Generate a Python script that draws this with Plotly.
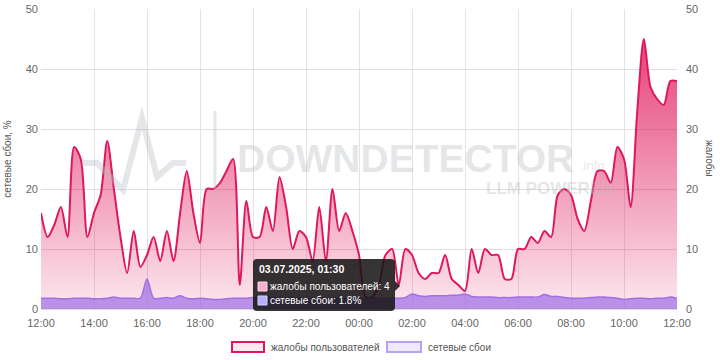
import pandas as pd
import plotly.graph_objects as go

# ---- data (15-minute steps, 02.07.2025 12:00 -> 03.07.2025 12:00) ----
times = pd.date_range("2025-07-02 12:00", "2025-07-03 12:00", freq="15min")

complaints = [
    16, 12, 14, 17, 12, 27, 25, 12,      # 12:00-13:45
    16, 19, 28, 20, 12, 6, 13, 7,        # 14:00-15:45
    9, 12, 8, 13, 8, 16, 23, 16,         # 16:00-17:45
    11, 20, 20, 21, 23, 25, 4, 18,       # 18:00-19:45
    12, 12, 17, 13, 22, 17, 10, 13,      # 20:00-21:45
    12, 8, 17, 8, 20, 13, 16, 13,        # 22:00-23:45
    9, 2, 2, 4, 9, 10, 4, 10,            # 00:00-01:45
    9, 6, 5, 6, 6, 9, 5, 4,              # 02:00-03:45
    3, 10, 6, 10, 9, 9, 5, 5,            # 04:00-05:45
    10, 10, 12, 11, 13, 12, 19, 20,      # 06:00-07:45
    19, 15, 13, 18, 23, 23, 21, 27,      # 08:00-09:45
    25, 17, 33, 45, 37, 35, 34, 38,      # 10:00-11:45
    38,                                  # 12:00
]

network = [
    1.8, 1.8, 1.8, 1.7, 1.7, 1.8, 1.8, 1.8,
    1.7, 1.7, 1.8, 2.0, 1.8, 1.8, 1.8, 1.8,
    5.0, 1.8, 1.8, 1.9, 1.8, 2.2, 1.8, 1.7,
    1.8, 1.7, 1.6, 1.6, 1.7, 1.8, 1.8, 1.8,
    1.9, 2.0, 2.0, 1.9, 1.9, 1.8, 1.9, 1.8,
    1.8, 1.8, 1.9, 1.8, 1.8, 1.9, 1.8, 1.8,
    1.8, 1.7, 1.8, 1.8, 1.8, 1.8, 1.8, 1.9,
    2.5, 2.2, 2.1, 2.2, 2.2, 2.2, 2.3, 2.3,
    2.5, 2.1, 2.0, 2.0, 2.0, 1.9, 1.9, 1.9,
    2.0, 2.0, 2.0, 2.0, 2.4, 2.1, 2.1, 1.9,
    1.8, 1.8, 1.8, 1.9, 2.0, 2.0, 1.9, 1.8,
    1.6, 1.7, 1.8, 1.8, 1.7, 1.8, 1.8, 2.0,
    1.8,
]

x_ticks_fmt = "%H:%M"
name_complaints = "жалобы пользователей"
name_network = "сетевые сбои"
tooltip_title = "03.07.2025, 01:30"
tooltip_c = "жалобы пользователей: 4"
tooltip_n = "сетевые сбои: 1.8%"

FONT = "Liberation Sans, Arial, sans-serif"
PINK = "#e0185a"
PURPLE = "#a66ee4"

# plot-area pixel geometry (for decorations only)
L, R, T, B = 41, 677, 9, 309
def px(x): return (x - L) / (R - L)
def py(y): return (B - y) / (B - T)

fig = go.Figure()
fig.add_trace(go.Scatter(
    x=times, y=complaints, name=name_complaints, yaxis="y",
    mode="lines", fill="tozeroy",
    fillgradient=dict(type="vertical",
                      colorscale=[[0, "rgba(224,24,90,0.10)"], [1, "rgba(224,24,90,0.82)"]]),
    line=dict(color=PINK, width=2, shape="spline", smoothing=0.8),
    hoverinfo="skip", showlegend=False))
fig.add_trace(go.Scatter(
    x=times, y=network, name=name_network, yaxis="y2",
    mode="lines", fill="tozeroy", fillcolor="rgba(155,105,230,0.68)",
    line=dict(color=PURPLE, width=1.5, shape="spline", smoothing=0.8),
    hoverinfo="skip", showlegend=False))

tickfont = dict(family=FONT, size=11, color="#666")
fig.update_layout(
    width=720, height=360, autosize=False,
    margin=dict(l=L, r=720 - R, t=T, b=360 - B, autoexpand=False),
    paper_bgcolor="white", plot_bgcolor="white",
    font=dict(family=FONT, size=11, color="#555"),
    hovermode=False, showlegend=False,
    xaxis=dict(type="date", range=[times[0], times[-1]], dtick=2 * 3600 * 1000,
               tick0=times[0], tickformat=x_ticks_fmt, showgrid=True,
               gridcolor="#e3e3e3", gridwidth=1, zeroline=False, showline=False,
               ticks="", tickfont=tickfont, automargin=False, ticklabelstandoff=6),
    yaxis=dict(side="right", range=[0, 50], dtick=10, showgrid=True,
               gridcolor="#dedede", zeroline=True, zerolinecolor="#dedede",
               ticks="", tickfont=tickfont, showline=False, automargin=False,
               ticklabelstandoff=8),
    yaxis2=dict(side="left", overlaying="y", range=[0, 50], dtick=10,
                showgrid=False, zeroline=False, ticks="", tickfont=tickfont,
                automargin=False, ticklabelstandoff=2,
                title=dict(text="сетевые сбои, %", font=dict(family=FONT, size=10, color="#555"),
                           standoff=12)),
)

shapes = []
annotations = []

# watermark logo
wm = "rgba(185,190,196,0.38)"
pts = [(82, 163), (97, 163), (123, 190), (142, 118), (157, 177), (173, 163), (186, 163)]
path = "M " + " L ".join(f"{px(a):.4f},{py(b):.4f}" for a, b in pts)
shapes.append(dict(type="path", xref="paper", yref="paper", path=path,
                   line=dict(color=wm, width=6), layer="above"))
shapes.append(dict(type="line", xref="paper", yref="paper",
                   x0=px(215), x1=px(215), y0=py(111), y1=py(201),
                   line=dict(color=wm, width=3), layer="above"))
annotations.append(dict(xref="paper", yref="paper", x=px(235), y=py(158),
                        xanchor="left", yanchor="middle", showarrow=False,
                        text="<b>DOWNDETECTOR</b>",
                        font=dict(family=FONT, size=39, color=wm)))
annotations.append(dict(xref="paper", yref="paper", x=px(578), y=py(165),
                        xanchor="left", yanchor="middle", showarrow=False,
                        text=".info", font=dict(family=FONT, size=13, color=wm)))
annotations.append(dict(xref="paper", yref="paper", x=px(616), y=py(188),
                        xanchor="right", yanchor="middle", showarrow=False,
                        text="<b>LLM POWERED</b>", font=dict(family=FONT, size=17, color=wm)))

# right axis title (rotated clockwise)
annotations.append(dict(xref="paper", yref="paper", x=px(710), y=py(158),
                        xanchor="center", yanchor="middle", showarrow=False, textangle=90,
                        text="жалобы", font=dict(family=FONT, size=10, color="#555")))

# legend
def box(x0, x1, y0, y1, line, fill, w=2):
    shapes.append(dict(type="rect", xref="paper", yref="paper",
                       x0=px(x0), x1=px(x1), y0=py(y0), y1=py(y1),
                       line=dict(color=line, width=w), fillcolor=fill, layer="above"))

box(232, 264, 342, 352, PINK, "#fdeaf1")
annotations.append(dict(xref="paper", yref="paper", x=px(269), y=py(347),
                        xanchor="left", yanchor="middle", showarrow=False,
                        text=name_complaints, font=dict(family=FONT, size=10, color="#555")))
box(387, 421, 342, 352, "#b9a2f6", "#eee9fd")
annotations.append(dict(xref="paper", yref="paper", x=px(426), y=py(347),
                        xanchor="left", yanchor="middle", showarrow=False,
                        text=name_network, font=dict(family=FONT, size=10, color="#555")))

# static tooltip
def rrect(x0, y0, x1, y1, r):
    p = [f"M {px(x0 + r):.4f},{py(y0):.4f}",
         f"L {px(x1 - r):.4f},{py(y0):.4f}",
         f"Q {px(x1):.4f},{py(y0):.4f} {px(x1):.4f},{py(y0 + r):.4f}",
         f"L {px(x1):.4f},{py(281):.4f}",
         f"L {px(x1 + 5):.4f},{py(286):.4f}",
         f"L {px(x1):.4f},{py(291):.4f}",
         f"L {px(x1):.4f},{py(y1 - r):.4f}",
         f"Q {px(x1):.4f},{py(y1):.4f} {px(x1 - r):.4f},{py(y1):.4f}",
         f"L {px(x0 + r):.4f},{py(y1):.4f}",
         f"Q {px(x0):.4f},{py(y1):.4f} {px(x0):.4f},{py(y1 - r):.4f}",
         f"L {px(x0):.4f},{py(y0 + r):.4f}",
         f"Q {px(x0):.4f},{py(y0):.4f} {px(x0 + r):.4f},{py(y0):.4f} Z"]
    return " ".join(p)

shapes.append(dict(type="path", xref="paper", yref="paper",
                   path=rrect(253, 259, 395, 311, 4),
                   fillcolor="rgba(20,20,20,0.86)", line=dict(width=0), layer="above"))
annotations.append(dict(xref="paper", yref="paper", x=px(257), y=py(269),
                        xanchor="left", yanchor="middle", showarrow=False,
                        text=f"<b>{tooltip_title}</b>",
                        font=dict(family=FONT, size=10.5, color="white")))
shapes.append(dict(type="rect", xref="paper", yref="paper",
                   x0=px(258), x1=px(267), y0=py(282), y1=py(291),
                   fillcolor="#f7b3cb", line=dict(color="#ffd6e4", width=1), layer="above"))
shapes.append(dict(type="rect", xref="paper", yref="paper",
                   x0=px(258), x1=px(267), y0=py(296), y1=py(305),
                   fillcolor="#b6b1f8", line=dict(color="#d6d3ff", width=1), layer="above"))
annotations.append(dict(xref="paper", yref="paper", x=px(268), y=py(286.5),
                        xanchor="left", yanchor="middle", showarrow=False,
                        text=tooltip_c, font=dict(family=FONT, size=10, color="white")))
annotations.append(dict(xref="paper", yref="paper", x=px(268), y=py(300.5),
                        xanchor="left", yanchor="middle", showarrow=False,
                        text=tooltip_n, font=dict(family=FONT, size=10, color="white")))

fig.update_layout(shapes=shapes, annotations=annotations)
fig.write_html("out.html", config={"displayModeBar": False, "staticPlot": True},
               post_script="document.body.style.margin='0';document.body.style.overflow='hidden';")
